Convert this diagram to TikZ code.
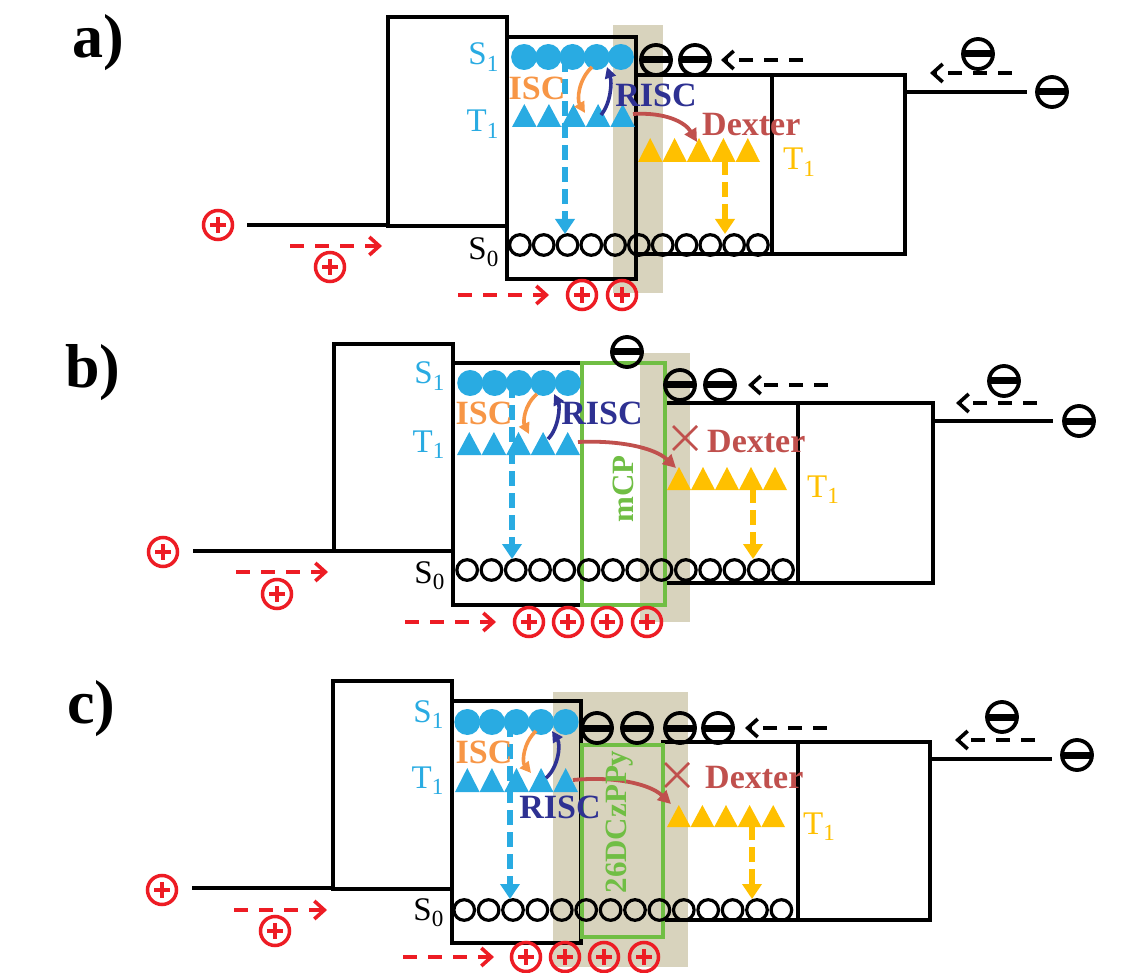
\documentclass[tikz,border=0pt]{standalone}
\usepackage{fontspec}
\setmainfont{Liberation Serif}
\usetikzlibrary{arrows.meta}
\definecolor{cblue}{RGB}{41,171,226}
\definecolor{corange}{RGB}{247,150,70}
\definecolor{cdblue}{RGB}{46,49,146}
\definecolor{cdex}{RGB}{192,80,77}
\definecolor{cyel}{RGB}{255,192,0}
\definecolor{cgreen}{RGB}{112,190,68}
\definecolor{cred}{RGB}{237,28,36}
\definecolor{ctan}{RGB}{216,211,189}
\newcommand\fsz[1]{\fontsize{#1}{#1}\selectfont}
\tikzset{
  box/.style={line width=4.3pt, line join=miter},
  gbox/.style={draw=cgreen, line width=3.8pt},
  shade/.style={fill=ctan},
  panel/.style={anchor=base west, inner sep=0pt, font=\fsz{62}\bfseries},
  lvl/.style={anchor=base east, inner sep=0pt, font=\fsz{33}},
  proc/.style={inner sep=0pt, font=\fsz{34}\bfseries},
  rdarr/.style={draw=cred, line width=3.6pt, dash pattern=on 14pt off 11pt, -{Straight Barb[length=10pt,width=18pt]}},
  kdarr/.style={draw=black, line width=3.6pt, dash pattern=on 14pt off 11pt, -{Straight Barb[length=10pt,width=18pt]}},
  vdarr/.style={line width=5.5pt, dash pattern=on 15pt off 7pt, -{Triangle[length=15pt,width=19pt]}},
  isc/.style={draw=corange, line width=3.6pt, -{Triangle[length=11pt,width=11pt]}},
  risc/.style={draw=cdblue, line width=3.6pt, -{Triangle[length=11pt,width=11pt]}},
  dex/.style={draw=cdex, line width=3.8pt, -{Triangle[length=13pt,width=13pt]}},
  cross/.style={draw=cdex, line width=2.8pt},
  hplus/.pic={\draw[cred,line width=3.5pt] (0,0) circle (14.5pt);
              \draw[cred,line width=3.5pt] (-8,0)--(8,0) (0,-8)--(0,8);},
  eminus/.pic={\draw[line width=3.8pt] (0,0) circle (15pt);
               \draw[line width=7pt] (-14.5,0)--(14.5,0);}
}
% row of 5 blue S1 circles between x0 and x1 at y
\newcommand\srow[3]{%
  \pgfmathsetmacro\cw{(#2-#1)/5}%
  \foreach \i in {0,...,4}{\fill[cblue] ({#1+(\i+0.5)*\cw},#3) circle (13pt);}}
% row of 5 triangles x0,x1,ybase,yapex,colour
\newcommand\trirow[5]{%
  \pgfmathsetmacro\tw{(#2-#1)/5}%
  \foreach \i in {0,...,4}{\fill[#5] ({#1+\i*\tw},#3) -- ({#1+(\i+1)*\tw},#3) -- ({#1+(\i+0.5)*\tw},#4) -- cycle;}}
% row of open ground-state circles: left edge, count, spacing, y
\newcommand\gsrow[4]{%
  \foreach \i in {1,...,#2}{\draw[line width=3.2pt] ({#1+(\i-0.5)*#3},#4) circle (10.3pt);}}
\begin{document}
\begin{tikzpicture}[x=1pt,y=-1pt]
\useasboundingbox (0,0) rectangle (1143,973);
%================ panel a =================
\node[panel] (alab) at (72,58) {a)};
\fill[shade] (613,25) rectangle (663,293);
\draw[box] (247,225) -- (388,225);
\draw[box] (388,17) rectangle (507,226);
\draw[box] (507,37) rectangle (636,279);
\draw[box] (636,75) rectangle (772,254);
\draw[box] (772,75) rectangle (905,254);
\draw[box] (905,92) -- (1027,92);
\pic at (218,225) {hplus};
\coordinate (aR1) at (290,246); \coordinate (aR2) at (382,246);
\draw[rdarr] (aR1) -- (aR2);
\pic at (330,267) {hplus};
\coordinate (aR3) at (458,295); \coordinate (aR4) at (549,295);
\draw[rdarr] (aR3) -- (aR4);
\pic at (582,295) {hplus}; \pic at (622,295) {hplus};
\pic at (1052,92) {eminus}; \pic at (978,54) {eminus};
\coordinate (aK1) at (1012,73); \coordinate (aK2) at (930,73);
\draw[kdarr] (aK1) -- (aK2);
\pic at (656,60) {eminus}; \pic at (695,60) {eminus};
\coordinate (aK3) at (803,60); \coordinate (aK4) at (721,60);
\draw[kdarr] (aK3) -- (aK4);
\srow{512}{633}{57}
\trirow{512}{635}{127}{104}{cblue}
\trirow{638}{760}{162}{138}{cyel}
\gsrow{508}{11}{23.8}{245}
\coordinate (aB1) at (565,57); \coordinate (aB2) at (565,234);
\draw[vdarr,draw=cblue] (aB1) -- (aB2);
\coordinate (aY1) at (725,160); \coordinate (aY2) at (725,234);
\draw[vdarr,draw=cyel] (aY1) -- (aY2);
\coordinate (aI1) at (592,67); \coordinate (aI2) at (585,113);
\draw[isc] (aI1) .. controls (578,80) and (577,100) .. (aI2);
\coordinate (aQ1) at (601,115); \coordinate (aQ2) at (607,67);
\draw[risc] (aQ1) .. controls (611,103) and (612,82) .. (aQ2);
\coordinate (aD1) at (633,114); \coordinate (aD2) at (697,142);
\draw[dex] (aD1) .. controls (665,112) and (685,122) .. (aD2);
\node[lvl,text=cblue] (aS1) at (499,65) {S\textsubscript{1}};
\node[lvl,text=cblue] (aT1) at (499,132) {T\textsubscript{1}};
\node[lvl,text=black] (aS0) at (499,260) {S\textsubscript{0}};
\node[proc,text=corange] (aisc) at (537,88) {ISC};
\node[proc,text=cdblue] (arisc) at (656,95) {RISC};
\node[proc,text=cdex,anchor=base west] (adex) at (702,136) {Dexter};
\node[lvl,text=cyel,anchor=base west] (aT1y) at (783,170) {T\textsubscript{1}};
%================ panel b =================
\node[panel] (blab) at (65,388) {b)};
\fill[shade] (640,353) rectangle (690,622);
\draw[box] (193,551) -- (334,551);
\draw[box] (334,344) rectangle (453,551);
\draw[box] (453,363) rectangle (582,605);
\draw[box] (665,403) rectangle (798,583);
\draw[box] (798,403) rectangle (933,583);
\draw[box] (933,421) -- (1053,421);
\draw[gbox] (582,363) rectangle (665,605);
\pic at (163,552) {hplus};
\coordinate (bR1) at (236,572); \coordinate (bR2) at (328,572);
\draw[rdarr] (bR1) -- (bR2);
\pic at (277,594) {hplus};
\coordinate (bR3) at (405,622); \coordinate (bR4) at (496,622);
\draw[rdarr] (bR3) -- (bR4);
\foreach \x in {529,568,607,647}{\pic at (\x,622) {hplus};}
\pic at (1079,421) {eminus}; \pic at (1004,381) {eminus};
\coordinate (bK1) at (1037,403); \coordinate (bK2) at (956,403);
\draw[kdarr] (bK1) -- (bK2);
\pic at (627,352) {eminus};
\pic at (680,385) {eminus}; \pic at (720,385) {eminus};
\coordinate (bK3) at (828,385); \coordinate (bK4) at (748,385);
\draw[kdarr] (bK3) -- (bK4);
\srow{458}{580}{383}
\trirow{457}{580}{455}{432}{cblue}
\trirow{667}{787}{490}{467}{cyel}
\gsrow{455}{14}{24.3}{570}
\coordinate (bB1) at (512,383); \coordinate (bB2) at (512,559);
\draw[vdarr,draw=cblue] (bB1) -- (bB2);
\coordinate (bY1) at (753,488); \coordinate (bY2) at (753,559);
\draw[vdarr,draw=cyel] (bY1) -- (bY2);
\coordinate (bI1) at (537,394); \coordinate (bI2) at (529,434);
\draw[isc] (bI1) .. controls (524,405) and (523,422) .. (bI2);
\coordinate (bQ1) at (548,439); \coordinate (bQ2) at (554,394);
\draw[risc] (bQ1) .. controls (559,428) and (560,406) .. (bQ2);
\coordinate (bD1) at (578,442); \coordinate (bD2) at (676,468);
\draw[dex] (bD1) .. controls (620,440) and (655,448) .. (bD2);
\draw[cross] (673,426) -- (697,450) (673,450) -- (697,426);
\node[lvl,text=cblue] (bS1) at (445,384) {S\textsubscript{1}};
\node[lvl,text=cblue] (bT1) at (445,452) {T\textsubscript{1}};
\node[lvl,text=black] (bS0) at (445,583) {S\textsubscript{0}};
\node[proc,text=corange] (bisc) at (484,413) {ISC};
\node[proc,text=cdblue] (brisc) at (602,413) {RISC};
\node[proc,text=cdex,anchor=base west] (bdex) at (707,452) {Dexter};
\node[lvl,text=cyel,anchor=base west] (bT1y) at (807,497) {T\textsubscript{1}};
\node[proc,text=cgreen,rotate=90,font=\fsz{31}\bfseries] (bmcp) at (623,489) {mCP};
%================ panel c =================
\node[panel] (clab) at (67,723) {c)};
\fill[shade] (553,692) rectangle (688,967);
\draw[box] (192,888) -- (333,888);
\draw[box] (333,681) rectangle (452,889);
\draw[box] (452,701) rectangle (581,943);
\draw[box] (663,742) rectangle (798,920);
\draw[box] (798,742) rectangle (930,920);
\draw[box] (930,759) -- (1052,759);
\draw[gbox] (582,745) rectangle (663,937);
\pic at (162,890) {hplus};
\coordinate (cR1) at (234,910); \coordinate (cR2) at (327,910);
\draw[rdarr] (cR1) -- (cR2);
\pic at (275,931) {hplus};
\coordinate (cR3) at (403,957); \coordinate (cR4) at (494,957);
\draw[rdarr] (cR3) -- (cR4);
\foreach \x in {526,565,604,644}{\pic at (\x,957) {hplus};}
\pic at (1077,755) {eminus}; \pic at (1002,717) {eminus};
\coordinate (cK1) at (1035,740); \coordinate (cK2) at (955,740);
\draw[kdarr] (cK1) -- (cK2);
\foreach \x in {597,637,680,718}{\pic at (\x,728) {eminus};}
\coordinate (cK3) at (827,728); \coordinate (cK4) at (745,728);
\draw[kdarr] (cK3) -- (cK4);
\srow{455}{578}{722}
\trirow{455}{578}{792}{768}{cblue}
\trirow{667}{785}{827}{805}{cyel}
\gsrow{452}{14}{24.4}{910}
\coordinate (cB1) at (510,722); \coordinate (cB2) at (510,899);
\draw[vdarr,draw=cblue] (cB1) -- (cB2);
\coordinate (cY1) at (752,825); \coordinate (cY2) at (752,899);
\draw[vdarr,draw=cyel] (cY1) -- (cY2);
\coordinate (cI1) at (536,731); \coordinate (cI2) at (531,773);
\draw[isc] (cI1) .. controls (523,743) and (522,762) .. (cI2);
\coordinate (cQ1) at (546,778); \coordinate (cQ2) at (552,731);
\draw[risc] (cQ1) .. controls (558,768) and (561,745) .. (cQ2);
\coordinate (cD1) at (573,780); \coordinate (cD2) at (671,804);
\draw[dex] (cD1) .. controls (615,776) and (650,784) .. (cD2);
\draw[cross] (665,763) -- (689,787) (665,787) -- (689,763);
\node[lvl,text=cblue] (cS1) at (444,722) {S\textsubscript{1}};
\node[lvl,text=cblue] (cT1) at (444,788) {T\textsubscript{1}};
\node[lvl,text=black] (cS0) at (444,920) {S\textsubscript{0}};
\node[proc,text=corange] (cisc) at (484,752) {ISC};
\node[proc,text=cdblue] (crisc) at (560,807) {RISC};
\node[proc,text=cdex,anchor=base west] (cdex) at (705,788) {Dexter};
\node[lvl,text=cyel,anchor=base west] (cT1y) at (803,834) {T\textsubscript{1}};
\node[proc,text=cgreen,rotate=90,font=\fsz{31}\bfseries] (cdcz) at (620,822) {26DCzPPy};
\end{tikzpicture}
\end{document}
